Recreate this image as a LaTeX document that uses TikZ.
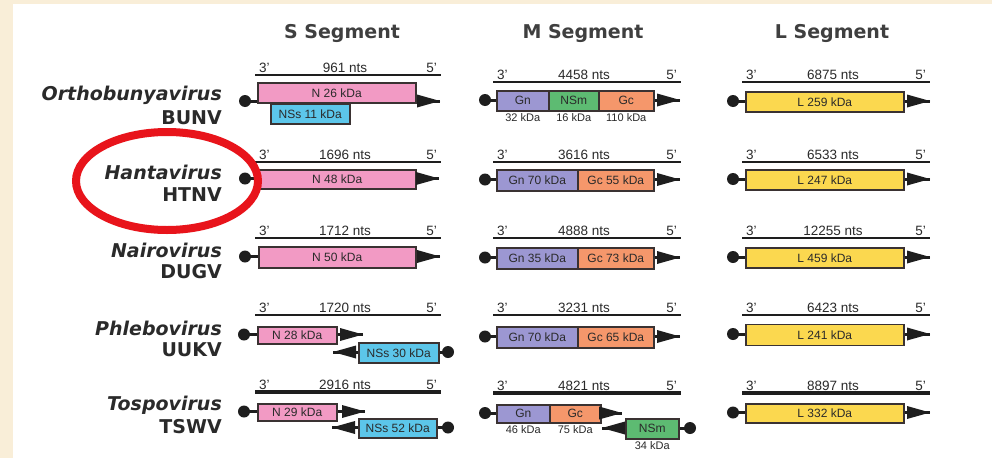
\documentclass[tikz,border=0pt]{standalone}
\usepackage{fontspec}
\setmainfont{Liberation Sans}
\newfontfamily\dvs{DejaVu Sans}
\usetikzlibrary{calc}
\definecolor{cream}{HTML}{F9EED8}
\definecolor{pk}{HTML}{F29AC4}
\definecolor{bl}{HTML}{5CC6EA}
\definecolor{lav}{HTML}{9C97D2}
\definecolor{gr}{HTML}{5DBB72}
\definecolor{orc}{HTML}{F5976B}
\definecolor{ye}{HTML}{FBD84F}
\definecolor{boxc}{HTML}{3A3232}
\definecolor{blk}{HTML}{1E1E1E}
\definecolor{txt}{HTML}{2A2A2A}
\definecolor{redc}{HTML}{E8141B}
\newcommand\genome[6]{%
  \coordinate (#1a) at (#2,#4); \coordinate (#1b) at (#3,#4);
  \draw[blk, line width=#6] (#1a) -- (#1b);
  \node[lab, anchor=south] (#1l) at ($(#1a)!0.5!(#1b)+(-3,-1)$) {#5};
  \node[lab, anchor=south west] (#1t) at ($(#1a)+(3,-1)$) {3'};
  \node[lab, anchor=south east] (#1f) at ($(#1b)+(-3,-1)$) {5'};}
\newcommand\rdot[3]{\coordinate (#1) at (#2,#3); \fill[blk] (#1) circle (6);}
\newcommand\rtip[1]{\fill[blk] ($(#1)+(-23,-6.5)$) .. controls ($(#1)+(-12,-2.8)$) .. (#1) .. controls ($(#1)+(-12,2.8)$) .. ($(#1)+(-23,6.5)$) -- cycle;}
\newcommand\ltip[1]{\fill[blk] ($(#1)+(23,-6.5)$) .. controls ($(#1)+(12,-2.8)$) .. (#1) .. controls ($(#1)+(12,2.8)$) .. ($(#1)+(23,6.5)$) -- cycle;}
\begin{document}
\begin{tikzpicture}[x=1pt,y=-1pt,
  gbox/.style={draw=boxc, line width=1.5, inner sep=0, anchor=north west, text=txt, font=\fontsize{12}{12}\selectfont},
  rna/.style={draw=blk, line width=3},
  lab/.style={inner sep=1, text=txt, font=\fontsize{13.5}{13.5}\selectfont},
  sublab/.style={inner sep=1, text=txt, anchor=north, font=\fontsize{11}{11}\selectfont},
  head/.style={text=txt!90, font=\dvs\bfseries\fontsize{19}{19}\selectfont},
  genus/.style={anchor=east, inner sep=0, text=txt, font=\dvs\bfseries\itshape\fontsize{19}{19}\selectfont},
  strain/.style={anchor=east, inner sep=0, text=txt, font=\dvs\bfseries\fontsize{19}{19}\selectfont}]
\useasboundingbox (0,0) rectangle (992,458);
\fill[cream] (0,0) rectangle (992,458);
\fill[white] (13,4) rectangle (992,458);
% headers
\node[head] (hs) at (342,33) {S Segment};
\node[head] (hm) at (583,33) {M Segment};
\node[head] (hl) at (832,33) {L Segment};
% genus labels
\node[genus] (g1) at (222,95) {Orthobunyavirus};
\node[strain] (v1) at (222,118) {BUNV};
\node[genus] (g2) at (222,172) {Hantavirus};
\node[strain] (v2) at (222,195) {HTNV};
\node[genus] (g3) at (222,250) {Nairovirus};
\node[strain] (v3) at (222,272) {DUGV};
\node[genus] (g4) at (222,328) {Phlebovirus};
\node[strain] (v4) at (222,350) {UUKV};
\node[genus] (g5) at (222,405) {Tospovirus};
\node[strain] (v5) at (222,427) {TSWV};

% ===== Row 1 =====
\genome{gs1}{255}{441}{75}{961 nts}{2.4}
\rdot{s1d}{245}{101}\coordinate (s1t) at (440,101);
\node[gbox, fill=pk, minimum width=158, minimum height=20] (s1n) at (257,82) {N 26 kDa};
\node[gbox, fill=bl, minimum width=79, minimum height=20] (s1s) at (270,103) {NSs 11 kDa};
\draw[rna] (s1d) -- (s1d -| s1n.west); \draw[rna] (s1t -| s1n.east) -- (s1t); \rtip{s1t}

\genome{gm1}{493}{681}{82}{4458 nts}{2.4}
\node[gbox, fill=lav, minimum width=52, minimum height=20] (m1a) at (496,90) {Gn};
\node[gbox, fill=gr, minimum width=50, minimum height=20] (m1b) at (548,90) {NSm};
\node[gbox, fill=orc, minimum width=55, minimum height=20] (m1c) at (598,90) {Gc};
\node[sublab] (m1al) at ($(m1a.south)+(0,1)$) {32 kDa};
\node[sublab] (m1bl) at ($(m1b.south)+(0,1)$) {16 kDa};
\node[sublab] (m1cl) at ($(m1c.south)+(0,1)$) {110 kDa};
\rdot{m1d}{485}{100}\coordinate (m1t) at (680,100);
\draw[rna] (m1d) -- (m1d -| m1a.west); \draw[rna] (m1t -| m1c.east) -- (m1t); \rtip{m1t}

\genome{gl1}{742}{930}{82}{6875 nts}{2.4}
\node[gbox, fill=ye, minimum width=158, minimum height=20] (l1) at (745,91) {L 259 kDa};
\rdot{l1d}{733}{101}\coordinate (l1t) at (930,101);
\draw[rna] (l1d) -- (l1d -| l1.west); \draw[rna] (l1t -| l1.east) -- (l1t); \rtip{l1t}

% ===== Row 2 =====
\genome{gs2}{255}{441}{162}{1696 nts}{2.4}
\node[gbox, fill=pk, minimum width=157, minimum height=19] (s2n) at (258,169) {N 48 kDa};
\rdot{s2d}{245}{178.5}\coordinate (s2t) at (439,178.5);
\draw[rna] (s2d) -- (s2d -| s2n.west); \draw[rna] (s2t -| s2n.east) -- (s2t); \rtip{s2t}

\genome{gm2}{493}{681}{162}{3616 nts}{2.4}
\node[gbox, fill=lav, minimum width=81, minimum height=21] (m2a) at (496,169) {Gn 70 kDa};
\node[gbox, fill=orc, minimum width=76, minimum height=21] (m2c) at (577,169) {Gc 55 kDa};
\rdot{m2d}{485}{179.5}\coordinate (m2t) at (680,179.5);
\draw[rna] (m2d) -- (m2d -| m2a.west); \draw[rna] (m2t -| m2c.east) -- (m2t); \rtip{m2t}

\genome{gl2}{742}{930}{162}{6533 nts}{2.4}
\node[gbox, fill=ye, minimum width=158, minimum height=20] (l2) at (745,169) {L 247 kDa};
\rdot{l2d}{733}{179}\coordinate (l2t) at (930,179);
\draw[rna] (l2d) -- (l2d -| l2.west); \draw[rna] (l2t -| l2.east) -- (l2t); \rtip{l2t}

% ===== Row 3 =====
\genome{gs3}{255}{441}{238}{1712 nts}{2.4}
\node[gbox, fill=pk, minimum width=157, minimum height=21] (s3n) at (258,246) {N 50 kDa};
\rdot{s3d}{245}{256.5}\coordinate (s3t) at (440,256.5);
\draw[rna] (s3d) -- (s3d -| s3n.west); \draw[rna] (s3t -| s3n.east) -- (s3t); \rtip{s3t}

\genome{gm3}{493}{681}{238}{4888 nts}{2.4}
\node[gbox, fill=lav, minimum width=81, minimum height=21] (m3a) at (496,247) {Gn 35 kDa};
\node[gbox, fill=orc, minimum width=76, minimum height=21] (m3c) at (577,247) {Gc 73 kDa};
\rdot{m3d}{485}{257.5}\coordinate (m3t) at (680,257.5);
\draw[rna] (m3d) -- (m3d -| m3a.west); \draw[rna] (m3t -| m3c.east) -- (m3t); \rtip{m3t}

\genome{gl3}{742}{930}{238}{12255 nts}{2.4}
\node[gbox, fill=ye, minimum width=158, minimum height=20] (l3) at (745,247) {L 459 kDa};
\rdot{l3d}{733}{257}\coordinate (l3t) at (930,257);
\draw[rna] (l3d) -- (l3d -| l3.west); \draw[rna] (l3t -| l3.east) -- (l3t); \rtip{l3t}

% ===== Row 4 =====
\genome{gs4}{255}{441}{315}{1720 nts}{2.4}
\node[gbox, fill=pk, minimum width=79, minimum height=17] (s4n) at (257,326) {N 28 kDa};
\rdot{s4d}{244}{334.5}\coordinate (s4t) at (363,334.5);
\draw[rna] (s4d) -- (s4d -| s4n.west); \draw[rna] (s4t -| s4n.east) -- (s4t); \rtip{s4t}
\node[gbox, fill=bl, minimum width=80, minimum height=20] (s4s) at (358,342) {NSs 30 kDa};
\rdot{s4e}{448}{352}\coordinate (s4u) at (333,352);
\draw[rna] (s4e) -- (s4e -| s4s.east); \draw[rna] (s4u -| s4s.west) -- (s4u); \ltip{s4u}

\genome{gm4}{493}{681}{315}{3231 nts}{2.4}
\node[gbox, fill=lav, minimum width=81, minimum height=21] (m4a) at (496,326) {Gn 70 kDa};
\node[gbox, fill=orc, minimum width=76, minimum height=21] (m4c) at (577,326) {Gc 65 kDa};
\rdot{m4d}{485}{336.5}\coordinate (m4t) at (680,336.5);
\draw[rna] (m4d) -- (m4d -| m4a.west); \draw[rna] (m4t -| m4c.east) -- (m4t); \rtip{m4t}

\genome{gl4}{742}{930}{315}{6423 nts}{2.4}
\node[gbox, fill=ye, minimum width=158, minimum height=21] (l4) at (745,323.5) {L 241 kDa};
\rdot{l4d}{733}{334}\coordinate (l4t) at (930,334);
\draw[rna] (l4d) -- (l4d -| l4.west); \draw[rna] (l4t -| l4.east) -- (l4t); \rtip{l4t}

% ===== Row 5 =====
\genome{gs5}{255}{441}{392}{2916 nts}{3.8}
\node[gbox, fill=pk, minimum width=79, minimum height=17] (s5n) at (257,403) {N 29 kDa};
\rdot{s5d}{244}{411.5}\coordinate (s5t) at (365,411.5);
\draw[rna] (s5d) -- (s5d -| s5n.west); \draw[rna] (s5t -| s5n.east) -- (s5t); \rtip{s5t}
\node[gbox, fill=bl, minimum width=78, minimum height=19] (s5s) at (358,418) {NSs 52 kDa};
\rdot{s5e}{448}{427.5}\coordinate (s5u) at (332,427.5);
\draw[rna] (s5e) -- (s5e -| s5s.east); \draw[rna] (s5u -| s5s.west) -- (s5u); \ltip{s5u}

\genome{gm5}{493}{681}{393}{4821 nts}{3.8}
\node[gbox, fill=lav, minimum width=53, minimum height=18] (m5a) at (496,404) {Gn};
\node[gbox, fill=orc, minimum width=51, minimum height=18] (m5c) at (549,404) {Gc};
\node[sublab] (m5al) at ($(m5a.south)+(0,1)$) {46 kDa};
\node[sublab] (m5cl) at ($(m5c.south)+(0,1)$) {75 kDa};
\rdot{m5d}{485}{413}\coordinate (m5t) at (622,413);
\draw[rna] (m5d) -- (m5d -| m5a.west); \draw[rna] (m5t -| m5c.east) -- (m5t); \rtip{m5t}
\node[gbox, fill=gr, minimum width=53, minimum height=20] (m5b) at (625,418) {NSm};
\node[sublab] (m5bl) at ($(m5b.south)+(0,1)$) {34 kDa};
\rdot{m5e}{690}{428}\coordinate (m5u) at (602,428);
\draw[rna] (m5e) -- (m5e -| m5b.east); \draw[rna] (m5u -| m5b.west) -- (m5u); \ltip{m5u}

\genome{gl5}{742}{930}{393}{8897 nts}{3.8}
\node[gbox, fill=ye, minimum width=158, minimum height=19] (l5) at (745,403) {L 332 kDa};
\rdot{l5d}{733}{412.5}\coordinate (l5t) at (930,412.5);
\draw[rna] (l5d) -- (l5d -| l5.west); \draw[rna] (l5t -| l5.east) -- (l5t); \rtip{l5t}

% red highlight
\draw[redc, line width=8] (167,181) ellipse [x radius=91, y radius=49];
\end{tikzpicture}
\end{document}
